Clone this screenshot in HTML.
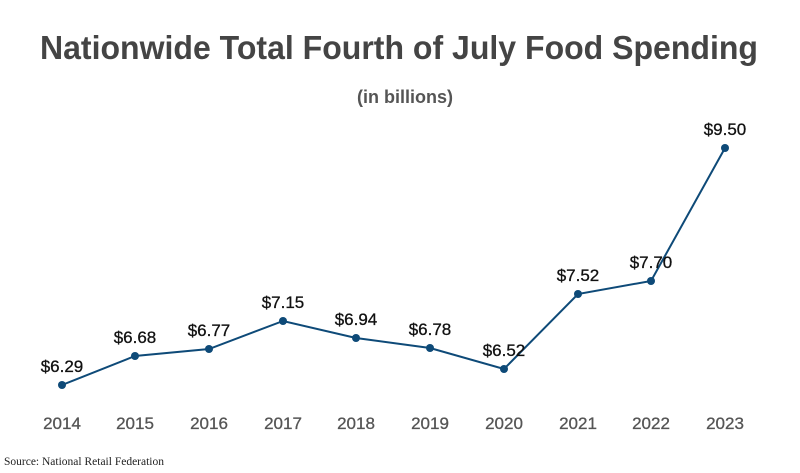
<!DOCTYPE html>
<html><head><meta charset="utf-8"><style>
html,body{margin:0;padding:0;background:#fff;}
svg{display:block;}
</style></head><body>
<svg width="800" height="473" xmlns="http://www.w3.org/2000/svg">
<text x="399" y="59" text-anchor="middle" font-family="Liberation Sans, sans-serif" font-weight="bold" font-size="33" fill="#444" textLength="718" lengthAdjust="spacingAndGlyphs">Nationwide Total Fourth of July Food Spending</text>
<text x="405" y="103" text-anchor="middle" font-family="Liberation Sans, sans-serif" font-weight="bold" font-size="18" fill="#555">(in billions)</text>
<polyline fill="none" stroke="#0e4a78" stroke-width="2" points="62,385 135,356 209,349 283,321 356,338 430,348 504,369 578,294 651,281 725,148"/>
<g fill="#0e4a78">
<circle cx="62" cy="385" r="4"/><circle cx="135" cy="356" r="4"/><circle cx="209" cy="349" r="4"/><circle cx="283" cy="321" r="4"/><circle cx="356" cy="338" r="4"/><circle cx="430" cy="348" r="4"/><circle cx="504" cy="369" r="4"/><circle cx="578" cy="294" r="4"/><circle cx="651" cy="281" r="4"/><circle cx="725" cy="148" r="4"/>
</g>
<g font-family="Liberation Sans, sans-serif" font-size="17" fill="#111" text-anchor="middle" stroke="#111" stroke-width="0.3">
<text x="62" y="372">$6.29</text><text x="135" y="343">$6.68</text><text x="209" y="336">$6.77</text><text x="283" y="308">$7.15</text><text x="356" y="325">$6.94</text><text x="430" y="335">$6.78</text><text x="504" y="356">$6.52</text><text x="578" y="281">$7.52</text><text x="651" y="268">$7.70</text><text x="725" y="135">$9.50</text>
</g>
<g font-family="Liberation Sans, sans-serif" font-size="17" fill="#555" text-anchor="middle" stroke="#555" stroke-width="0.3">
<text x="62" y="429">2014</text><text x="135" y="429">2015</text><text x="209" y="429">2016</text><text x="283" y="429">2017</text><text x="356" y="429">2018</text><text x="430" y="429">2019</text><text x="504" y="429">2020</text><text x="578" y="429">2021</text><text x="651" y="429">2022</text><text x="725" y="429">2023</text>
</g>
<text x="4" y="465" font-family="Liberation Serif, serif" font-size="11.5" fill="#222">Source: National Retail Federation</text>
</svg>
</body></html>
